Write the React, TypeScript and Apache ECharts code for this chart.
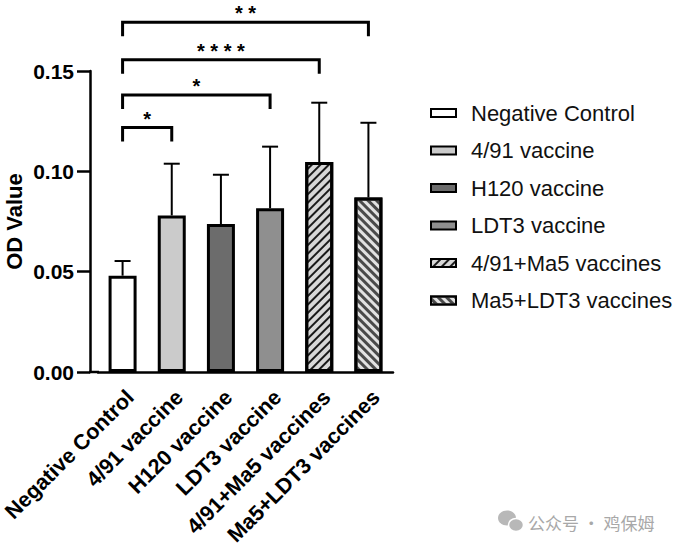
import React, { useEffect, useRef } from "react";
import * as echarts from "echarts";

const categories = [
  "Negative Control",
  "4/91 vaccine",
  "H120 vaccine",
  "LDT3 vaccine",
  "4/91+Ma5 vaccines",
  "Ma5+LDT3 vaccines",
];
const means = [0.048, 0.078, 0.0737, 0.0816, 0.1046, 0.087];
const errTops = [0.0553, 0.1038, 0.0983, 0.1123, 0.1342, 0.1242];
const yTicks = [0, 0.05, 0.1, 0.15];

const bracketStart = [0, 0, 0, 0];
const bracketEnd = [1, 3, 4, 5];
const bracketY = [0.1218, 0.138, 0.1556, 0.1743];
const bracketLabels = ["*", "*", "* * * *", "* *"];

const FONT = "'Liberation Sans', Arial, sans-serif";

const fills = ["#ffffff", "#cbcbcb", "#6c6c6c", "#8f8f8f", "#d8d8d8", "#e2e2e2"];
const decals: any[] = [
  null,
  null,
  null,
  null,
  { symbol: "rect", symbolSize: 1, dashArrayX: [1, 0], dashArrayY: [2, 4], rotation: -Math.PI / 4, color: "#1a1a1a" },
  { symbol: "rect", symbolSize: 1, dashArrayX: [1, 0], dashArrayY: [3, 3], rotation: Math.PI / 4, color: "#4a4a4a" },
];

export default function App() {
  const ref = useRef<HTMLDivElement>(null);
  useEffect(() => {
    const chart = echarts.init(ref.current!, null, { renderer: "svg" });

    const barSeries = categories.map((name, i) => ({
      name,
      type: "bar",
      data: categories.map((_, j) => (j === i ? means[j] : "-")),
      barWidth: 28,
      barGap: "-100%",
      itemStyle: {
        color: fills[i],
        borderColor: "#000",
        borderWidth: 3,
        ...(decals[i] ? { decal: decals[i] } : {}),
      },
      z: 2,
    }));

    const option: any = {
      animation: false,
      grid: { left: 98, right: 287, top: 71, bottom: 174, containLabel: false, outerBoundsMode: "none" },
      legend: {
        orient: "vertical",
        left: 425,
        top: 97,
        itemWidth: 25,
        itemHeight: 8,
        itemGap: 15.5,
        icon: "rect",
        textStyle: { fontFamily: FONT, fontSize: 22, color: "#111", padding: [0, 0, 0, 10] },
        data: categories,
        selectedMode: false,
      },
      xAxis: {
        type: "category",
        data: categories,
        axisLine: { lineStyle: { color: "#000", width: 2.5 } },
        axisTick: { alignWithLabel: true, length: 10, lineStyle: { color: "#000", width: 2.5 } },
        axisLabel: {
          rotate: 45,
          interval: 0,
          margin: 14,
          verticalAlign: "top",
          padding: [0, 0, 0, 0],
          fontFamily: FONT,
          fontWeight: "bold",
          fontSize: 21.5,
          color: "#000",
        },
      },
      yAxis: {
        type: "value",
        min: 0,
        max: 0.15,
        interval: 0.05,
        offset: 8,
        name: "OD Value",
        nameLocation: "middle",
        nameGap: 65,
        nameTextStyle: { fontFamily: FONT, fontWeight: "bold", fontSize: 22, color: "#000" },
        splitLine: { show: false },
        axisLine: { show: true, lineStyle: { color: "#000", width: 2.5 } },
        axisTick: { show: true, length: 13, lineStyle: { color: "#000", width: 2.5 } },
        axisLabel: {
          margin: 16,
          fontFamily: FONT,
          fontWeight: "bold",
          fontSize: 21,
          color: "#000",
          formatter: (v: number) => (yTicks.some((t) => Math.abs(t - v) < 1e-9) ? v.toFixed(2) : ""),
        },
      },
      series: [
        ...barSeries,
        {
          type: "custom",
          name: "err",
          data: categories.map((_, i) => [i, means[i], errTops[i]]),
          encode: { x: 0, y: [1, 2] },
          z: 1,
          renderItem: (params: any, api: any) => {
            const i = api.value(0);
            const base = api.coord([i, api.value(1)]);
            const top = api.coord([i, api.value(2)]);
            const half = 8;
            return {
              type: "group",
              children: [
                { type: "line", shape: { x1: base[0], y1: base[1], x2: top[0], y2: top[1] }, style: { stroke: "#000", lineWidth: 2 } },
                { type: "line", shape: { x1: top[0] - half, y1: top[1], x2: top[0] + half, y2: top[1] }, style: { stroke: "#000", lineWidth: 2 } },
              ],
            };
          },
        },
        {
          type: "custom",
          name: "brackets",
          clip: false,
          data: bracketStart.map((s, k) => [s, bracketEnd[k], bracketY[k], k]),
          encode: { x: [0, 1], y: 2 },
          z: 3,
          renderItem: (params: any, api: any) => {
            const k = api.value(3);
            const p1 = api.coord([api.value(0), api.value(2)]);
            const p2 = api.coord([api.value(1), api.value(2)]);
            const leg = 14;
            return {
              type: "group",
              children: [
                {
                  type: "polyline",
                  shape: { points: [[p1[0], p1[1] + leg], [p1[0], p1[1]], [p2[0], p2[1]], [p2[0], p2[1] + leg]] },
                  style: { stroke: "#000", lineWidth: 3, fill: null },
                },
                {
                  type: "text",
                  x: (p1[0] + p2[0]) / 2,
                  y: p1[1] - 9,
                  style: {
                    text: bracketLabels[k],
                    fontFamily: FONT,
                    fontWeight: "bold",
                    fontSize: 20,
                    fill: "#000",
                    align: "center",
                    verticalAlign: "middle",
                  },
                },
              ],
            };
          },
        },
      ],
      graphic: [
        { type: "line", shape: { x1: 89, y1: 372, x2: 99, y2: 372 }, style: { stroke: "#000", lineWidth: 2.5 } },
        { type: "ellipse", shape: { cx: 507, cy: 518, rx: 9, ry: 7.5 }, style: { fill: "#b8b8b8" } },
        { type: "ellipse", shape: { cx: 516, cy: 525, rx: 7.5, ry: 6.5 }, style: { fill: "#b8b8b8", stroke: "#fff", lineWidth: 1.5 } },
        {
          type: "text",
          x: 528,
          y: 522,
          style: {
            text: "公众号 · 鸡保姆",
            fontFamily: "'Noto Sans CJK SC', sans-serif",
            fontSize: 17,
            fill: "#a8a8a8",
            verticalAlign: "middle",
          },
        },
      ],
    };
    chart.setOption(option);
    return () => chart.dispose();
  }, []);
  return <div ref={ref} style={{ width: 680, height: 546, position: "absolute", left: 0, top: 0, background: "#fff" }} />;
}
